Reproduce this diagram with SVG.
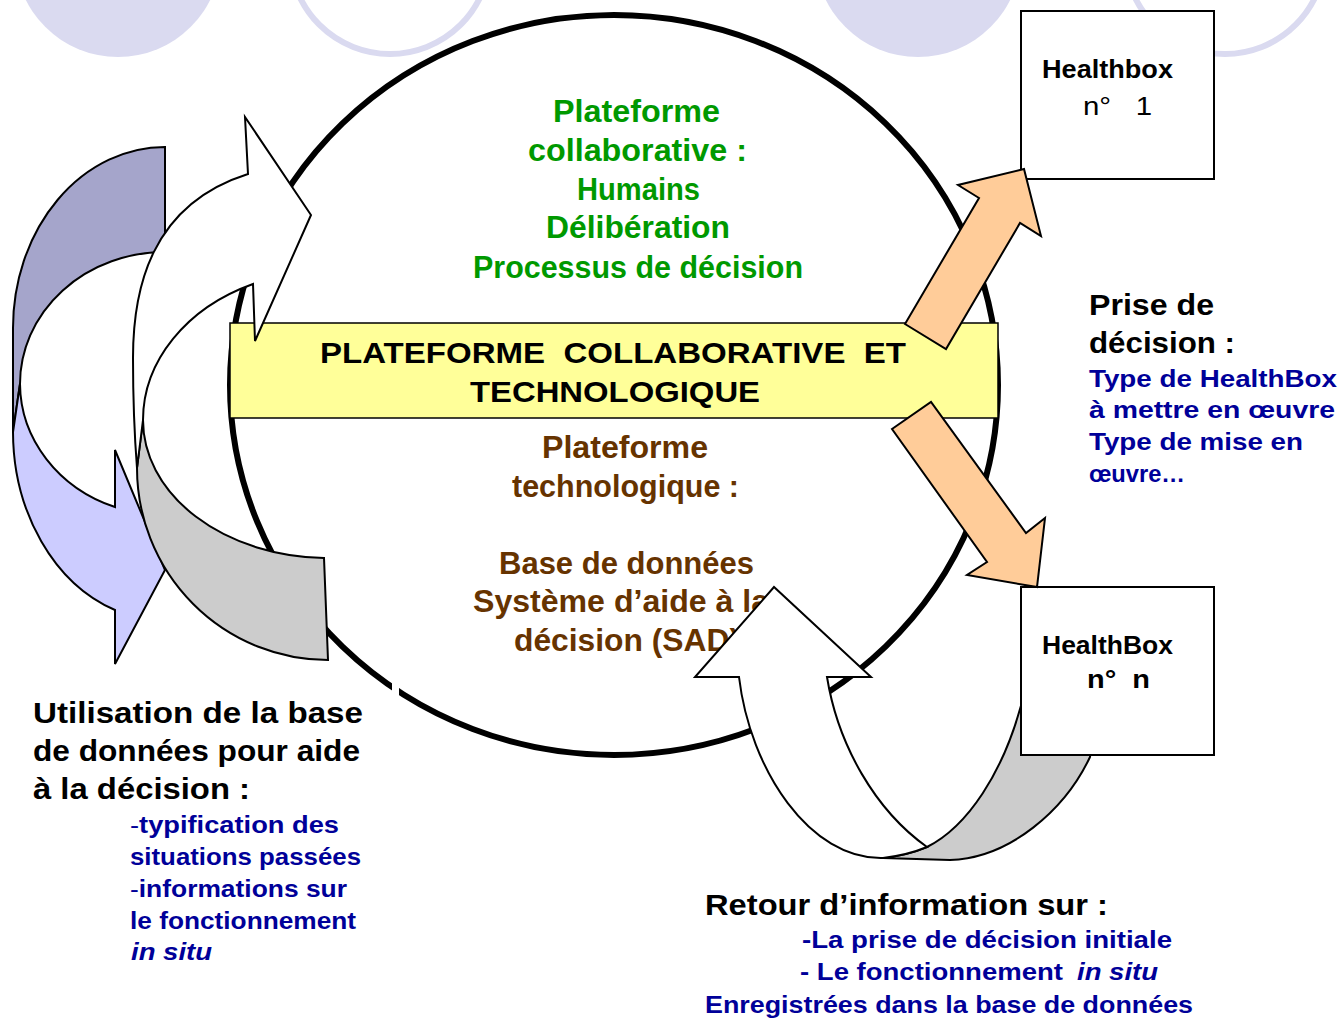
<svg xmlns="http://www.w3.org/2000/svg" width="1343" height="1020" viewBox="0 0 1343 1020">
<defs>
<style>
text{font-family:"Liberation Sans",Arial,sans-serif;font-weight:bold;white-space:pre}
.g{fill:#009900;font-size:31px}
.b{fill:#663300;font-size:31px}
.k{fill:#000;font-size:30px}
.u{fill:#000099;font-size:24px}
.hb{fill:#000;font-size:26px}
.it{font-style:italic}
.shape{stroke:#000;stroke-width:2;stroke-linejoin:miter}
.deco{fill:#dadaf0}
.ring{fill:none;stroke:#dadaf0;stroke-width:6}
.box{fill:#fff;stroke:#000;stroke-width:2}
.orange{fill:#ffcc99;stroke:#000;stroke-width:2}
</style>
</defs>
<rect width="1343" height="1020" fill="#fff"/>
<g id="background-circles">
<circle class="deco" cx="118" cy="-46" r="103"/>
<circle class="ring" cx="390" cy="-46" r="100"/>
<circle class="deco" cx="918" cy="-46" r="103"/>
<circle class="ring" cx="1225" cy="-46" r="100"/>
</g>
<g id="platform-circle">
<ellipse cx="614" cy="385" rx="384" ry="370" fill="none" stroke="#000" stroke-width="6"/>
<rect x="392" y="676" width="7" height="22" fill="#fff"/>
</g>
<g id="platform-band">
<rect x="230" y="323" width="768" height="95" fill="#ffff99" stroke="#000" stroke-width="1.5"/>
<text class="k" x="320" y="363" textLength="586" lengthAdjust="spacingAndGlyphs">PLATEFORME  COLLABORATIVE  ET</text>
<text class="k" x="470" y="402" textLength="290" lengthAdjust="spacingAndGlyphs">TECHNOLOGIQUE</text>
</g>
<g id="collaborative-text">
<text class="g" x="553" y="122" textLength="167" lengthAdjust="spacingAndGlyphs">Plateforme</text>
<text class="g" x="528" y="161" textLength="219" lengthAdjust="spacingAndGlyphs">collaborative :</text>
<text class="g" x="577" y="200" textLength="123" lengthAdjust="spacingAndGlyphs">Humains</text>
<text class="g" x="546" y="238" textLength="184" lengthAdjust="spacingAndGlyphs">Délibération</text>
<text class="g" x="473" y="278" textLength="330" lengthAdjust="spacingAndGlyphs">Processus de décision</text>
</g>
<g id="technological-text">
<text class="b" x="542" y="458" textLength="166" lengthAdjust="spacingAndGlyphs">Plateforme</text>
<text class="b" x="512" y="497" textLength="227" lengthAdjust="spacingAndGlyphs">technologique :</text>
<text class="b" x="499" y="574" textLength="255" lengthAdjust="spacingAndGlyphs">Base de données</text>
<text class="b" x="473" y="612" textLength="296" lengthAdjust="spacingAndGlyphs">Système d’aide à la</text>
<text class="b" x="514" y="651" textLength="226" lengthAdjust="spacingAndGlyphs">décision (SAD)</text>
</g>
<g id="connectors">
<g id="left-purple-arrow">
<path class="shape" fill="#a5a5cb" d="M165,147 A152,181 0 0 0 13,328 L13,432 L20,384 A145,132 0 0 1 165,252 Z"/>
<path class="shape" fill="#ccccff" d="M13,432 A152,189 0 0 0 115,610 L115,664 L165,570 L115,450 L115,507 A145,132 0 0 1 20,384 Z"/>
</g>
<g id="left-white-arrow">
<path class="shape" fill="#cccccc" d="M324,558 A185,138 0 0 1 143,420 L137,468 A191,192 0 0 0 328,660 Z"/>
<path class="shape" fill="#ffffff" d="M143,420 A185,149 0 0 1 253,284 L255,341 L311,215 L245,117 L248,174 C150,205 133,290 133,358 C133,400 134,430 137,468 Z"/>
</g>
<g id="feedback-arrow">
<path class="shape" fill="#cccccc" d="M883,858 C900,856 915,852 927,847 C965,828 1005,775 1025,690 L1100,690 L1090,757 C1065,810 1010,858 950,860 Z"/>
<path class="shape" fill="#ffffff" d="M739,677 L695,677 L774,587 L871,677 L827,677 C838,745 875,810 927,847 C915,852 900,856 883,858 C810,860 750,770 739,677 Z"/>
</g>
</g>
<g id="healthbox-1">
<rect class="box" x="1021" y="11" width="193" height="168"/>
<text class="hb" x="1042" y="78" textLength="131" lengthAdjust="spacingAndGlyphs">Healthbox</text>
<text class="hb" x="1083" y="115" style="font-weight:normal" textLength="69" lengthAdjust="spacingAndGlyphs">n°   1</text>
</g>
<g id="healthbox-n">
<rect class="box" x="1021" y="587" width="193" height="168"/>
<text class="hb" x="1042" y="654" textLength="131" lengthAdjust="spacingAndGlyphs">HealthBox</text>
<text class="hb" x="1087" y="688" textLength="63" lengthAdjust="spacingAndGlyphs">n°  n</text>
</g>
<g id="decision-arrows">
<path class="orange" d="M905,324 L979,198 L958,185 L1024,169 L1041,236 L1020,223 L946,349 Z"/>
<path class="orange" d="M892,429 L931,402 L1026,533 L1045,518 L1037,587 L967,575 L987,562 Z"/>
</g>
<g id="decision-text">
<text class="k" x="1089" y="315" textLength="125" lengthAdjust="spacingAndGlyphs">Prise de</text>
<text class="k" x="1089" y="353" textLength="146" lengthAdjust="spacingAndGlyphs">décision :</text>
<text class="u" x="1089" y="387" textLength="248" lengthAdjust="spacingAndGlyphs">Type de HealthBox</text>
<text class="u" x="1089" y="418" textLength="246" lengthAdjust="spacingAndGlyphs">à mettre en œuvre</text>
<text class="u" x="1089" y="450" textLength="214" lengthAdjust="spacingAndGlyphs">Type de mise en</text>
<text class="u" x="1089" y="482" textLength="96" lengthAdjust="spacingAndGlyphs">œuvre…</text>
</g>
<g id="database-use-text">
<text class="k" x="33" y="723" textLength="330" lengthAdjust="spacingAndGlyphs">Utilisation de la base</text>
<text class="k" x="33" y="761" textLength="327" lengthAdjust="spacingAndGlyphs">de données pour aide</text>
<text class="k" x="33" y="799" textLength="217" lengthAdjust="spacingAndGlyphs">à la décision :</text>
<text class="u" x="130" y="833" textLength="209" lengthAdjust="spacingAndGlyphs"><tspan style="font-weight:normal">-</tspan>typification des</text>
<text class="u" x="130" y="865" textLength="231" lengthAdjust="spacingAndGlyphs">situations passées</text>
<text class="u" x="130" y="897" textLength="217" lengthAdjust="spacingAndGlyphs"><tspan style="font-weight:normal">-</tspan>informations sur</text>
<text class="u" x="130" y="929" textLength="226" lengthAdjust="spacingAndGlyphs">le fonctionnement</text>
<text class="u it" x="131" y="960" textLength="81" lengthAdjust="spacingAndGlyphs">in situ</text>
</g>
<g id="feedback-text">
<text class="k" x="705" y="915" textLength="403" lengthAdjust="spacingAndGlyphs">Retour d’information sur :</text>
<text class="u" x="802" y="948" textLength="370" lengthAdjust="spacingAndGlyphs">-La prise de décision initiale</text>
<text class="u" x="800" y="980" textLength="263" lengthAdjust="spacingAndGlyphs">- Le fonctionnement</text>
<text class="u it" x="1077" y="980" textLength="81" lengthAdjust="spacingAndGlyphs">in situ</text>
<text class="u" x="705" y="1013" textLength="488" lengthAdjust="spacingAndGlyphs">Enregistrées dans la base de données</text>
</g>
</svg>
